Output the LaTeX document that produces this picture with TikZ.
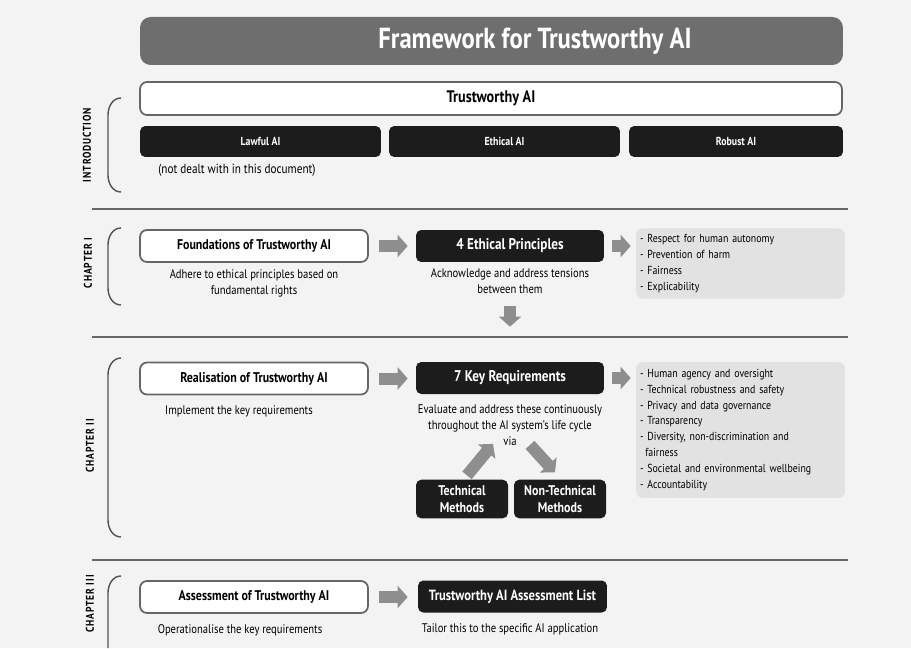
\documentclass[tikz,border=0pt]{standalone}
\usepackage{fontspec}
\setmainfont{PT Sans}[FakeStretch=0.85]
\usepackage{tikz}
\usetikzlibrary{arrows.meta,positioning,calc}
\definecolor{bgcol}{HTML}{F3F3F3}
\definecolor{titlecol}{HTML}{6E6E6E}
\definecolor{boxcol}{HTML}{1C1C1C}
\definecolor{listcol}{HTML}{E2E2E2}
\definecolor{arrcol}{HTML}{8E8E8E}
\definecolor{rulecol}{HTML}{666666}
\tikzset{
  title box/.style={
    fill=titlecol,
    rounded corners=6pt,
    minimum width=14.06cm,
    minimum height=0.96cm
  },
  white box/.style={
    draw=gray!80!black,
    fill=white,
    line width=1pt,
    rounded corners=4pt,
    minimum width=4.56cm,
    minimum height=0.64cm,
    font=\fontsize{8}{9}\selectfont\bfseries
  },
  black box/.style={
    fill=boxcol,
    rounded corners=3pt,
    text=white,
    minimum width=3.76cm,
    minimum height=0.64cm,
    align=center,
    font=\fontsize{8.8}{9.5}\selectfont\bfseries
  },
  list box/.style={
    fill=listcol,
    rounded corners=4pt,
    minimum width=4.18cm,
    text width=4.02cm,
    inner xsep=0.08cm,
    align=left,
    font=\fontsize{6.6}{9.07}\selectfont
  },
  desc/.style={
    inner sep=0pt,
    align=center,
    font=\fontsize{7.1}{9.07}\selectfont
  },
  chapter/.style={
    rotate=90,
    font=\fontsize{6.4}{7}\selectfont\bfseries\addfontfeature{LetterSpace=8}
  },
  fat arrow/.style={
    arrcol,
    line width=0.24cm,
    -{Triangle[length=0.2cm, width=0.44cm]}
  },
  bracket/.style={rulecol!80!black, line width=0.8pt},
  divider/.style={rulecol, line width=1.4pt}
}

\begin{document}
\begin{tikzpicture}[x=0.02cm, y=-0.02cm, node distance=0.2cm]
 \useasboundingbox (0,0) rectangle (911,648);
 \fill[bgcol] (0,0) rectangle (911,648);

 % introduction
 \node[title box] (title) at (491.5,41) {};
 \node[text=white, font=\fontsize{16.5}{18}\selectfont\bfseries] (titletext) at (535,41) {Framework for Trustworthy AI};
 \node[white box, minimum width=14.04cm, minimum height=0.66cm, font=\fontsize{9.5}{10}\selectfont\bfseries] (tai) at (491,98.5) {Trustworthy AI};
 \node[black box, minimum width=4.82cm, minimum height=0.62cm, font=\fontsize{6.6}{7}\selectfont\bfseries] (lawful) at (260.5,141.5) {Lawful AI};
 \node[black box, minimum width=4.62cm, minimum height=0.62cm, font=\fontsize{6.6}{7}\selectfont\bfseries] (ethical) at (504.5,141.5) {Ethical AI};
 \node[black box, minimum width=4.28cm, minimum height=0.62cm, font=\fontsize{6.6}{7}\selectfont\bfseries] (robust) at (736,141.5) {Robust AI};
 \node[desc, anchor=west, font=\fontsize{7.5}{9}\selectfont] (notdealt) at (158,170) {(not dealt with in this document)};

 % chapter I
 \node[white box] (found) at (254,246) {Foundations of Trustworthy AI};
 \node[black box] (ethic) at (510,246) {4 Ethical Principles};
 \node[list box, minimum height=1.38cm] (prin) at (740.5,263.5) {- Respect for human autonomy\\- Prevention of harm\\- Fairness\\- Explicability};
 \node[desc, below=0.12cm of found] (founddesc) {Adhere to ethical principles based on\\fundamental rights};
 \node[desc, below=0.12cm of ethic] (ethicdesc) {Acknowledge and address tensions\\between them};

 % chapter II
 \node[white box] (real) at (254,378.5) {Realisation of Trustworthy AI};
 \node[black box] (keyreq) at (510,378) {7 Key Requirements};
 \node[list box, minimum height=2.72cm] (reqs) at (740.5,430) {- Human agency and oversight\\- Technical robustness and safety\\- Privacy and data governance\\- Transparency\\- Diversity, non-discrimination and\\\hspace*{0.45em}fairness\\- Societal and environmental wellbeing\\- Accountability};
 \node[desc, below=0.2cm of real, xshift=-0.3cm] (realdesc) {Implement the key requirements};
 \node[desc, below=0.2cm of keyreq] (keyreqdesc) {Evaluate and address these continuously\\throughout the AI system's life cycle\\via};
 \node[black box, minimum width=1.84cm, minimum height=0.76cm, font=\fontsize{8}{9.5}\selectfont\bfseries] (tech) at (462,499) {Technical\\Methods};
 \node[black box, minimum width=1.84cm, minimum height=0.76cm, font=\fontsize{8}{9.5}\selectfont\bfseries] (nontech) at (560,499) {Non-Technical\\Methods};

 % chapter III
 \node[white box] (assess) at (254,597) {Assessment of Trustworthy AI};
 \node[black box, minimum width=3.78cm, font=\fontsize{8.4}{9}\selectfont\bfseries] (alist) at (512.5,596.5) {Trustworthy AI Assessment List};
 \node[desc, below=0.2cm of assess, xshift=-0.28cm] (assessdesc) {Operationalise the key requirements};
 \node[desc, below=0.2cm of alist, xshift=-0.05cm] (alistdesc) {Tailor this to the specific AI application};

 \node[chapter] (intro) at (87,145) {INTRODUCTION};
 \node[chapter] (chI) at (88,263) {CHAPTER I};
 \node[chapter] (chII) at (90,446) {CHAPTER II};
 \node[chapter] (chIII) at (90,604) {CHAPTER III};

 \draw[bracket] (121,98) to[out=180,in=90] (108,115) -- (108,175) to[out=-90,in=180] (121,192);
 \draw[bracket] (121,228) to[out=180,in=90] (108,245) -- (108,288) to[out=-90,in=180] (121,305);
 \draw[bracket] (121,358) to[out=180,in=90] (108,375) -- (108,520) to[out=-90,in=180] (121,537);
 \draw[bracket] (121,576) to[out=180,in=90] (108,593) -- (108,648);

 \draw[divider] (92,209) -- (848,209);
 \draw[divider] (92,337) -- (848,337);
 \draw[divider] (92,560) -- (848,560);

 \draw[fat arrow, shorten <=0.2cm, shorten >=0.16cm] (found.east) -- (ethic.west);
 \draw[fat arrow, shorten <=0.16cm, shorten >=0.1cm] (ethic.east) -- (ethic.east -| prin.west);
 \draw[fat arrow, shorten <=0.24cm, shorten >=0.7cm] (ethicdesc.south) -- (keyreq.north);
 \draw[fat arrow, shorten <=0.2cm, shorten >=0.16cm] (real.east) -- (real.east -| keyreq.west);
 \draw[fat arrow, shorten <=0.16cm, shorten >=0.1cm] (keyreq.east) -- (keyreq.east -| reqs.west);
 \draw[fat arrow] ([xshift=0.1cm,yshift=0.08cm]tech.north) -- ([xshift=-0.34cm,yshift=0.04cm]keyreqdesc.south);
 \draw[fat arrow] ([xshift=0.4cm,yshift=0.02cm]keyreqdesc.south) -- ([xshift=-0.1cm,yshift=0.14cm]nontech.north);
 \draw[fat arrow, shorten <=0.2cm, shorten >=0.2cm] (assess.east) -- (assess.east -| alist.west);
\end{tikzpicture}
\end{document}
